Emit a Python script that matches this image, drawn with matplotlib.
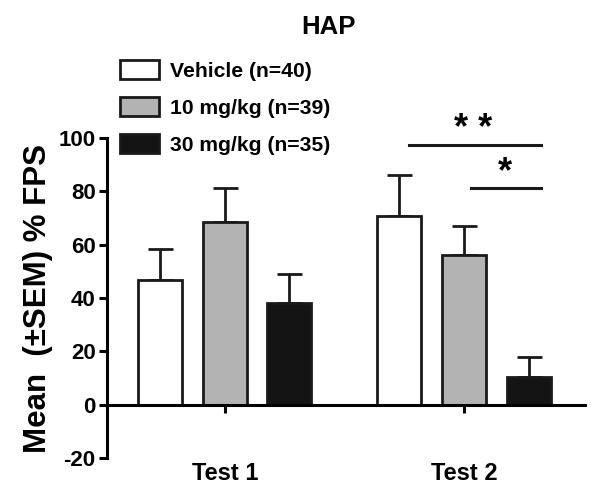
import matplotlib.pyplot as plt
import numpy as np

plt.rcParams['font.family'] = ['Liberation Sans', 'DejaVu Sans']
plt.rcParams['font.weight'] = 'bold'
plt.rcParams['axes.unicode_minus'] = False

tests = ["Test 1", "Test 2"]
groups = ["Vehicle (n=40)", "10 mg/kg (n=39)", "30 mg/kg (n=35)"]
colors = ["white", "#b3b3b3", "#141414"]
means = [[46.6, 70.9],
         [68.5, 56.2],
         [38.2, 10.5]]
sems = [[11.8, 15.3],
        [12.7, 10.7],
        [10.8, 7.4]]

fig = plt.figure(figsize=(6, 4.98), dpi=100)
ax = fig.add_axes([0.178, 0.0803, 0.797, 0.6426])

x = np.arange(1, len(tests) + 1)
width = 0.184
step = 0.27
lw = 2.0

for i in range(len(groups)):
    pos = x + (i - 1) * step
    ax.bar(pos, means[i], width, color=colors[i], edgecolor="#1a1a1a",
           linewidth=lw, label=groups[i], zorder=2)
    ax.errorbar(pos, means[i], yerr=[np.zeros(len(tests)), sems[i]], fmt="none",
                ecolor="#1a1a1a", elinewidth=lw, capsize=9, capthick=lw, zorder=1)

ax.set_xlim(0.506, 2.506)
ax.set_ylim(-20, 100)
ax.set_yticks(range(-20, 101, 20))
ax.spines["top"].set_visible(False)
ax.spines["right"].set_visible(False)
ax.spines["left"].set_linewidth(2.2)
ax.spines["bottom"].set_position(("data", 0))
ax.spines["bottom"].set_linewidth(2.2)
ax.spines["bottom"].set_zorder(3)
ax.set_xticks(x)
ax.set_xticklabels(tests)
ax.tick_params(axis="y", width=2.2, length=6, labelsize=16, pad=2)
ax.tick_params(axis="x", width=2.2, length=6, labelsize=17, pad=35)
ax.set_ylabel("Mean  (\u00b1SEM) % FPS", fontsize=22.5, fontweight="bold", labelpad=4)

# significance bars
ax.plot([1.77, 2.32], [97.5, 97.5], color="#1a1a1a", lw=2.2, clip_on=False)
ax.text(2.04, 96.8, "* *", ha="center", va="bottom", fontsize=26, fontweight="bold")
ax.plot([2.03, 2.32], [81.1, 81.1], color="#1a1a1a", lw=2.2, clip_on=False)
ax.text(2.17, 80.3, "*", ha="center", va="bottom", fontsize=26, fontweight="bold")

fig.text(0.548, 0.945, "HAP", ha="center", va="center", fontsize=18.5, fontweight="bold")

leg = fig.legend(*ax.get_legend_handles_labels(), loc="upper left",
                 bbox_to_anchor=(0.2, 1 - 60 / 498), bbox_transform=fig.transFigure,
                 frameon=False, fontsize=15.2, handlelength=1.85, handleheight=1.0,
                 labelspacing=0.77, handletextpad=0.5, borderpad=0, borderaxespad=0)

fig.savefig("out.png", dpi=100)
